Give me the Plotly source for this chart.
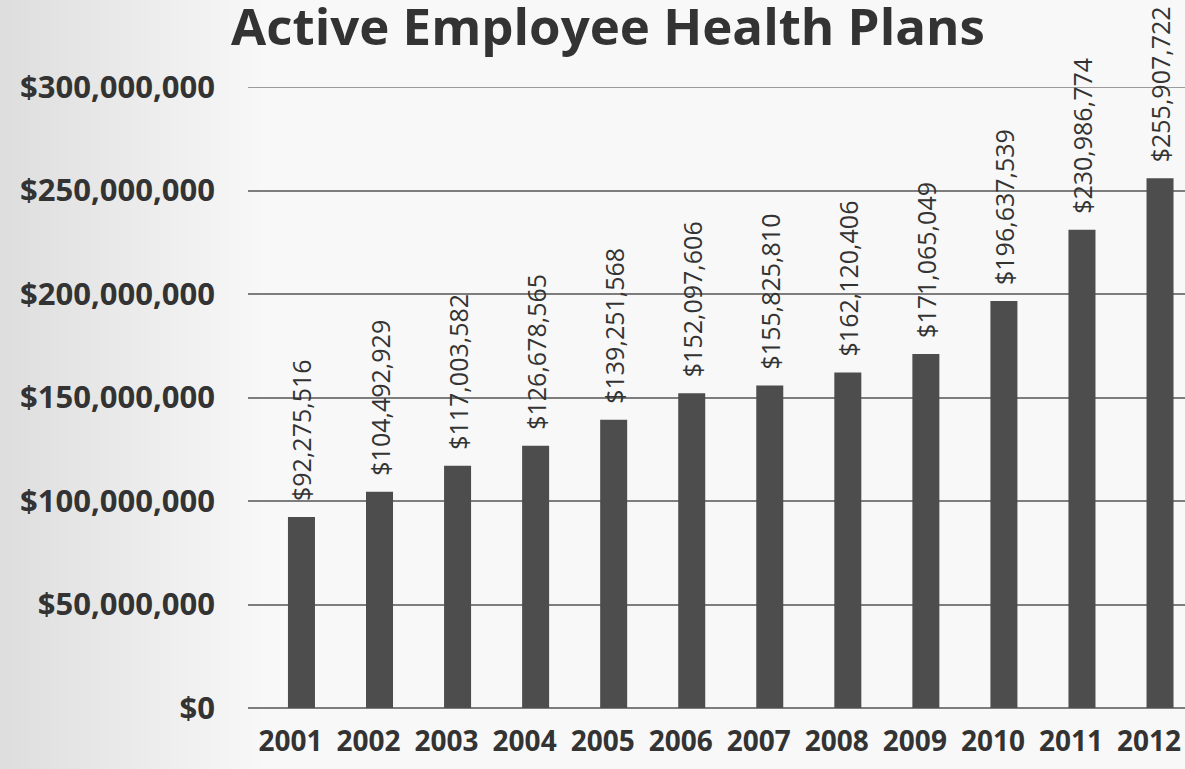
import plotly.graph_objects as go

# Annual cost of active employee health plans
years = ["2001", "2002", "2003", "2004", "2005", "2006",
         "2007", "2008", "2009", "2010", "2011", "2012"]
costs = [92275516, 104492929, 117003582, 126678565, 139251568, 152097606,
         155825810, 162120406, 171065049, 196637539, 230986774, 255907722]

y_ticks = [0, 50000000, 100000000, 150000000, 200000000, 250000000, 300000000]

TEXT = "#333333"
GRID = "#7d7d7d"
FONT = "Open Sans"

# value labels sit above each bar, rotated to read upward
labels = ["\u00a0\u00a0${:,}".format(v) for v in costs]

fig = go.Figure()
fig.add_trace(go.Bar(
    x=list(range(len(years))),
    y=costs,
    marker=dict(color="#4d4d4d", line=dict(width=0)),
    text=labels,
    textposition="outside",
    textangle=-90,
    constraintext="none",
    cliponaxis=False,
    textfont=dict(family=FONT, size=25, color=TEXT),
    hoverinfo="skip",
))

# soft grey shading along the left edge of the page
shapes = []
steps = 26
for i in range(steps):
    shapes.append(dict(
        type="rect", xref="paper", yref="paper", layer="below",
        x0=-248 / 937, x1=(-248 + 10 * (i + 1)) / 937, y0=-1, y1=2,
        fillcolor="rgba(0,0,0,0.0045)", line=dict(width=0),
    ))

# top gridline at the upper end of the value axis
shapes.append(dict(
    type="line", xref="paper", yref="y", layer="below",
    x0=0, x1=1, y0=y_ticks[-1], y1=y_ticks[-1],
    line=dict(color=GRID, width=1.5),
))

fig.update_layout(
    width=1185, height=769,
    margin=dict(l=248, r=0, t=87, b=61),
    paper_bgcolor="#f8f8f8",
    plot_bgcolor="rgba(0,0,0,0)",
    bargap=0.654,
    showlegend=False,
    shapes=shapes,
    title=dict(
        text="<b>Active Employee Health Plans</b>",
        font=dict(family=FONT, size=51, color=TEXT),
        x=608 / 1185, xanchor="center",
        y=1 - 27 / 769, yanchor="middle",
    ),
    xaxis=dict(
        range=[-0.685, 11.32],
        tickmode="array",
        tickvals=list(range(len(years))),
        ticktext=["<b>%s</b>" % y for y in years],
        tickfont=dict(family=FONT, size=28, color=TEXT),
        showgrid=False, zeroline=False, showline=False,
        ticks="", ticklabelstandoff=14, ticklabelshift=-11,
        ticklabeloverflow="allow",
    ),
    yaxis=dict(
        range=[0, 300000000],
        tickmode="array",
        tickvals=y_ticks,
        ticktext=["<b>${:,}</b>".format(v) for v in y_ticks],
        tickfont=dict(family=FONT, size=31, color=TEXT),
        showgrid=True, gridcolor=GRID, gridwidth=1.5,
        zeroline=True, zerolinecolor=GRID, zerolinewidth=1.5,
        showline=False, ticks="", ticklabelstandoff=32,
    ),
)

fig.write_html("out.html")
